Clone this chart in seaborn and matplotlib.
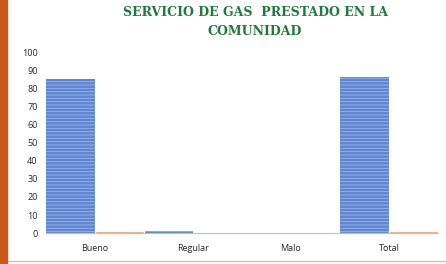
import matplotlib.pyplot as plt
import pandas as pd
import seaborn as sns

# Chart data
categories = ['Bueno', 'Regular', 'Malo', 'Total']
frecuencia = [85, 1, 0, 86]
porcentaje = [0.99, 0.01, 0, 1]
yticks = list(range(0, 101, 10))

df = pd.DataFrame({
   'categoria': categories * 2,
   'serie': ['Frecuencia'] * 4 + ['Porcentaje'] * 4,
   'valor': frecuencia + porcentaje})

sns.set_style('white')
plt.rcParams['font.family'] = ['Open Sans', 'DejaVu Sans']
plt.rcParams['hatch.linewidth'] = 0.6

fig = plt.figure(figsize=(4.46, 2.64), dpi=100)
ax = fig.add_axes([0.103, 0.117, 0.879, 0.686])

sns.barplot(
   ax = ax,
   data = df,
   x = 'categoria',
   y = 'valor',
   hue = 'serie',
   order = categories,
   palette = ['#5f86d2', '#ed7d31'],
   width = 1.0,
   legend = False,
   saturation = 1)

# striped texture on the blue bars
for p in ax.patches[:len(categories)]:
   p.set_hatch('-----')
   p.set_edgecolor('#9fb7e8')
   p.set_linewidth(0)

ax.set_ylim(0, 100)
ax.set_xlim(-0.5, 3.5)
ax.set_yticks(yticks)
ax.set_xlabel('')
ax.set_ylabel('')
ax.tick_params(axis='both', labelsize=6.5, colors='#262626', length=0)
ax.tick_params(axis='x', pad=8)
ax.tick_params(axis='y', pad=6)
for s in ['top', 'right', 'left']:
   ax.spines[s].set_visible(False)
ax.spines['bottom'].set_color('#bfbfbf')
ax.spines['bottom'].set_linewidth(0.8)

fig.text(0.572, 0.917, 'SERVICIO DE GAS  PRESTADO EN LA\nCOMUNIDAD',
   ha='center', va='center', fontsize=9, fontweight='bold',
   family='DejaVu Serif', color='#1f7a3c', linespacing=1.6)

# orange frame pieces
fig.patches.append(plt.Rectangle((0, 0), 7 / 446, 1, transform=fig.transFigure,
   color='#c8581a', zorder=0))
fig.lines.append(plt.Line2D([8 / 446, 1], [3 / 264, 3 / 264], transform=fig.transFigure,
   color='#f3b48a', linewidth=1))

fig.savefig('out.png', dpi=100)
